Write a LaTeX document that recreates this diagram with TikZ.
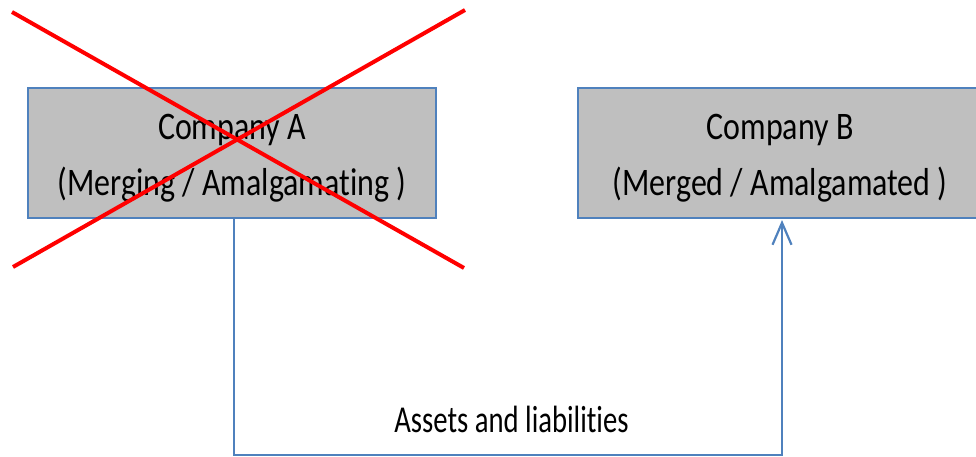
\documentclass[tikz,border=0pt]{standalone}
\usepackage{fontspec}
\setmainfont[FakeStretch=0.82,Ligatures={NoCommon}]{Carlito}
\newfontfamily\lblfont[FakeStretch=0.755,Ligatures={NoCommon}]{Carlito}
\usetikzlibrary{arrows.meta}
\definecolor{boxblue}{HTML}{4F81BD}
\definecolor{boxgray}{HTML}{BFBFBF}
\tikzset{
  company/.style={draw=boxblue, line width=2.2pt, fill=boxgray, minimum width=408pt, minimum height=130pt, inner sep=0pt, align=center},
  companytext/.style={align=center, inner sep=0pt, font=\fontsize{39}{55}\selectfont},
  flow/.style={draw=boxblue, line width=2pt},
  cross/.style={draw=red, line width=4pt},
  label/.style={font=\lblfont\fontsize{38}{44}\selectfont, inner sep=0pt}
}
\begin{document}
\begin{tikzpicture}[x=1pt,y=-1pt]
\useasboundingbox (0,0) rectangle (976,457);
\node[company] (A) at (232,153) {};
\node[company] (B) at (782,153) {};
\node[companytext, anchor=base] (At) at (232,195) {Company A\\(Merging / Amalgamating )};
\node[companytext, anchor=base] (Bt) at (780,195) {Company B\\(Merged / Amalgamated )};
\coordinate (Aout) at (234,218);
\coordinate (Bin) at (782,220);
\coordinate (c1) at (234,455);
\coordinate (c2) at (782,455);
\draw[flow, -{Straight Barb[length=22pt,width=19pt,line width=2.2pt]}] (Aout) -- (c1) -- (c2) -- (Bin);
\node[label, anchor=base] (L) at (511.5,432) {Assets and liabilities};
\coordinate (x1) at (12,12);
\coordinate (x2) at (464,268);
\coordinate (x3) at (465,10);
\coordinate (x4) at (13,267);
\draw[cross] (x1) -- (x2);
\draw[cross] (x3) -- (x4);
\end{tikzpicture}
\end{document}
